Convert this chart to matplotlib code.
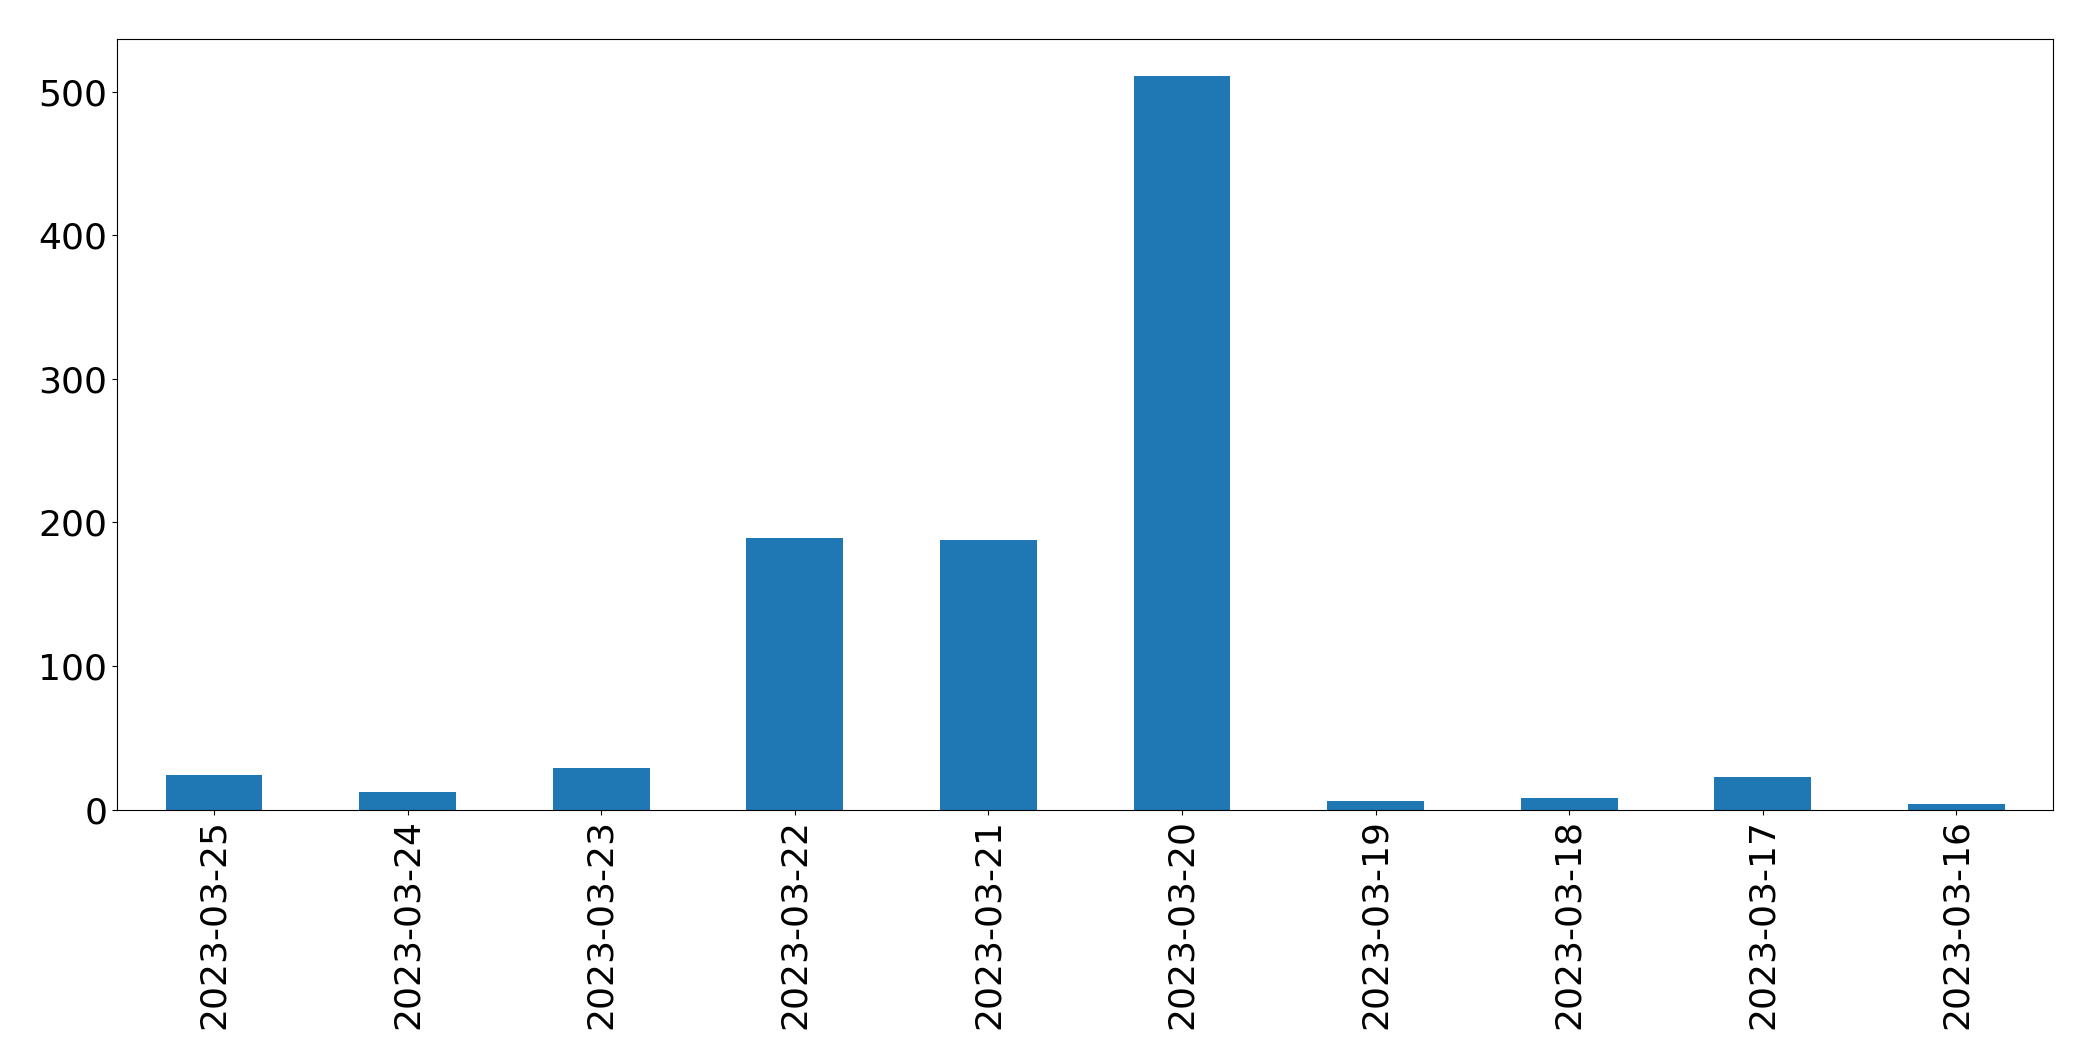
import matplotlib
matplotlib.use("Agg")
import matplotlib.pyplot as plt
import pandas as pd

# --- counts per day --- #
dates = [
    "2023-03-25", "2023-03-24", "2023-03-23", "2023-03-22", "2023-03-21",
    "2023-03-20", "2023-03-19", "2023-03-18", "2023-03-17", "2023-03-16",
]
counts = [24, 12, 29, 189, 188, 511, 6, 8, 23, 4]

s = pd.Series(counts, index=dates)

fig, ax = plt.subplots(figsize=(20.93, 10.61), dpi=100)
s.plot(kind="bar", ax=ax, color="#1f77b4")

ax.tick_params(axis="both", labelsize=26)
for lbl in ax.get_xticklabels():
    lbl.set_rotation(90)

fig.subplots_adjust(left=0.056, right=0.981, top=0.963, bottom=0.237)
fig.savefig("out.png", dpi=100)
